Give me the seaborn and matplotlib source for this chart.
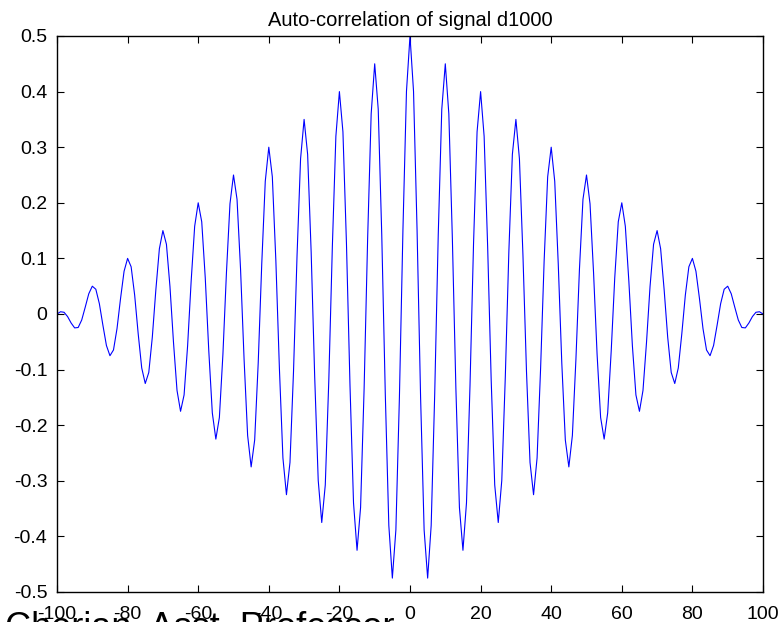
import matplotlib
matplotlib.use("Agg")
import matplotlib.pyplot as plt
import seaborn as sns
import pandas as pd

# ---- data ----
lags = list(range(-100, 101))
acorr = [
    0.0, 0.00405, 0.00309, -0.00464, -0.01618, -0.025, -0.02427, -0.01082, 0.01236, 0.03641,
    0.05, 0.0445, 0.01854, -0.02009, -0.05663, -0.075, -0.06472, -0.02627, 0.02781, 0.07686,
    0.1, 0.08495, 0.03399, -0.03554, -0.09708, -0.125, -0.10517, -0.04172, 0.04326, 0.11731,
    0.15, 0.1254, 0.04944, -0.05099, -0.13753, -0.175, -0.14562, -0.05717, 0.05871, 0.15776,
    0.2, 0.16585, 0.06489, -0.06644, -0.17798, -0.225, -0.18607, -0.07262, 0.07416, 0.19821,
    0.25, 0.2063, 0.08035, -0.08189, -0.21844, -0.275, -0.22653, -0.08807, 0.08962, 0.23866,
    0.3, 0.24675, 0.0958, -0.09734, -0.25889, -0.325, -0.26698, -0.10352, 0.10507, 0.27911,
    0.35, 0.2872, 0.11125, -0.11279, -0.29934, -0.375, -0.30743, -0.11897, 0.12052, 0.31956,
    0.4, 0.32765, 0.1267, -0.12824, -0.33979, -0.425, -0.34788, -0.13442, 0.13597, 0.36001,
    0.45, 0.3681, 0.14215, -0.14369, -0.38024, -0.475, -0.38833, -0.14987, 0.15142, 0.40046,
    0.5,
    0.40046, 0.15142, -0.14987, -0.38833, -0.475, -0.38024, -0.14369, 0.14215, 0.3681, 0.45,
    0.36001, 0.13597, -0.13442, -0.34788, -0.425, -0.33979, -0.12824, 0.1267, 0.32765, 0.4,
    0.31956, 0.12052, -0.11897, -0.30743, -0.375, -0.29934, -0.11279, 0.11125, 0.2872, 0.35,
    0.27911, 0.10507, -0.10352, -0.26698, -0.325, -0.25889, -0.09734, 0.0958, 0.24675, 0.3,
    0.23866, 0.08962, -0.08807, -0.22653, -0.275, -0.21844, -0.08189, 0.08035, 0.2063, 0.25,
    0.19821, 0.07416, -0.07262, -0.18607, -0.225, -0.17798, -0.06644, 0.06489, 0.16585, 0.2,
    0.15776, 0.05871, -0.05717, -0.14562, -0.175, -0.13753, -0.05099, 0.04944, 0.1254, 0.15,
    0.11731, 0.04326, -0.04172, -0.10517, -0.125, -0.09708, -0.03554, 0.03399, 0.08495, 0.1,
    0.07686, 0.02781, -0.02627, -0.06472, -0.075, -0.05663, -0.02009, 0.01854, 0.0445, 0.05,
    0.03641, 0.01236, -0.01082, -0.02427, -0.025, -0.01618, -0.00464, 0.00309, 0.00405, 0.0,
]
xticks = [-100, -80, -60, -40, -20, 0, 20, 40, 60, 80, 100]
xticklabels = ["-100", "-80", "-60", "-40", "-20", "0", "20", "40", "60", "80", "100"]
yticks = [-0.5, -0.4, -0.3, -0.2, -0.1, 0, 0.1, 0.2, 0.3, 0.4, 0.5]
yticklabels = ["-0.5", "-0.4", "-0.3", "-0.2", "-0.1", "0", "0.1", "0.2", "0.3", "0.4", "0.5"]
title = "Auto-correlation of signal d1000"
footer = "Cherian, Asst. Professor"

# ---- style ----
sns.set_theme(style="white")
plt.rcParams["font.family"] = ["Liberation Sans", "DejaVu Sans"]
plt.rcParams["axes.unicode_minus"] = False

fig = plt.figure(figsize=(7.82, 6.22), dpi=100)
ax = fig.add_axes([57 / 782, 1 - 592 / 622, (763 - 57) / 782, (592 - 36) / 622])

df = pd.DataFrame({"lag": lags, "r": acorr})
sns.lineplot(data=df, x="lag", y="r", ax=ax, color="#0000ff", linewidth=0.8)

ax.set_xlim(-100, 100)
ax.set_ylim(-0.5, 0.5)
ax.set_xticks(xticks)
ax.set_xticklabels(xticklabels)
ax.set_yticks(yticks)
ax.set_yticklabels(yticklabels)
ax.set_xlabel("")
ax.set_ylabel("")
ax.tick_params(axis="both", which="both", direction="in", length=5, width=0.8,
               top=True, right=True, bottom=True, left=True,
               labelsize=14, colors="black")
ax.tick_params(axis="x", pad=10)
ax.tick_params(axis="y", pad=7)
for s in ax.spines.values():
    s.set_color("black")
    s.set_linewidth(1.0)
ax.set_facecolor("white")
ax.set_title(title, fontsize=14.5, color="black", pad=7)

fig.text(0.006, 1 - 638 / 622, footer, fontsize=26, color="black",
         ha="left", va="baseline")

fig.savefig("out.png", dpi=100, facecolor="white")
